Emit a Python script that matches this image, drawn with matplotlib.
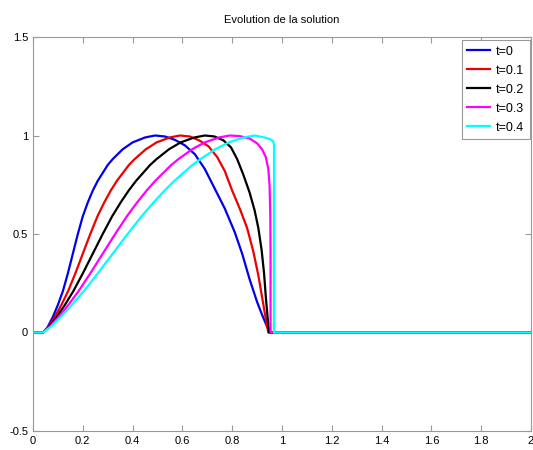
import matplotlib
matplotlib.use("Agg")
from matplotlib import pyplot as plt

# === Donnees ===

# t=0
x_t0 = [0.0, 0.04, 0.05, 0.06, 0.08, 0.10, 0.12, 0.14, 0.16, 0.18, 0.20, 0.22, 0.24, 0.26, 0.28, 0.30,
        0.32, 0.36, 0.40, 0.45, 0.49, 0.53, 0.57, 0.61, 0.65, 0.69, 0.73, 0.77, 0.81, 0.84, 0.87,
        0.90, 0.92, 0.94, 0.955, 2.0]
u_t0 = [0.0, 0.0, 0.012, 0.03, 0.08, 0.14, 0.21, 0.30, 0.40, 0.50, 0.59, 0.66, 0.72, 0.77, 0.81, 0.85,
        0.88, 0.93, 0.965, 0.99, 1.0, 0.995, 0.978, 0.95, 0.905, 0.83, 0.73, 0.63, 0.51, 0.40, 0.27,
        0.155, 0.09, 0.03, 0.0, 0.0]

# t=0.1
x_t1 = [0.0, 0.04, 0.063, 0.088, 0.114, 0.141, 0.17, 0.20, 0.23, 0.259, 0.286, 0.312, 0.337, 0.361,
        0.385, 0.408, 0.453, 0.4965, 0.549, 0.59, 0.63, 0.668, 0.705, 0.74, 0.77, 0.80, 0.83, 0.86,
        0.885, 0.905, 0.92, 0.932, 0.945, 2.0]
u_t1 = [0.0, 0.0, 0.03, 0.08, 0.14, 0.21, 0.30, 0.40, 0.50, 0.59, 0.66, 0.72, 0.77, 0.81,
        0.85, 0.88, 0.93, 0.965, 0.99, 1.0, 0.995, 0.975, 0.945, 0.89, 0.82, 0.72, 0.63, 0.53,
        0.41, 0.29, 0.18, 0.09, 0.0, 0.0]

# t=0.2
x_t2 = [0.0, 0.04, 0.066, 0.096, 0.128, 0.162, 0.20, 0.24, 0.28, 0.318, 0.352, 0.384, 0.414, 0.442,
        0.47, 0.496, 0.546, 0.593, 0.648, 0.69, 0.729, 0.765, 0.795, 0.82, 0.845, 0.87, 0.89, 0.905,
        0.918, 0.928, 0.935, 0.942, 0.948, 2.0]
u_t2 = [0.0, 0.0, 0.03, 0.08, 0.14, 0.21, 0.30, 0.40, 0.50, 0.59, 0.66, 0.72, 0.77, 0.81,
        0.85, 0.88, 0.93, 0.965, 0.99, 1.0, 0.995, 0.975, 0.94, 0.88, 0.80, 0.71, 0.62, 0.53,
        0.42, 0.30, 0.18, 0.08, 0.0, 0.0]

# t=0.3
x_t3 = [0.0, 0.04, 0.069, 0.104, 0.142, 0.183, 0.23, 0.28, 0.33, 0.377, 0.418, 0.456, 0.491, 0.523,
        0.555, 0.584, 0.639, 0.6895, 0.747, 0.79, 0.83, 0.87, 0.90, 0.92, 0.935, 0.945, 0.95, 0.953,
        0.954, 0.954, 0.954, 2.0]
u_t3 = [0.0, 0.0, 0.03, 0.08, 0.14, 0.21, 0.30, 0.40, 0.50, 0.59, 0.66, 0.72, 0.77, 0.81,
        0.85, 0.88, 0.93, 0.965, 0.99, 1.0, 0.997, 0.985, 0.96, 0.93, 0.89, 0.83, 0.75, 0.60,
        0.40, 0.20, 0.0, 0.0]

# t=0.4
x_t4 = [0.0, 0.04, 0.072, 0.112, 0.156, 0.204, 0.26, 0.32, 0.38, 0.436, 0.484, 0.528, 0.568, 0.604,
        0.64, 0.672, 0.732, 0.786, 0.846, 0.89, 0.93, 0.955, 0.965, 0.968, 0.968, 2.0]
u_t4 = [0.0, 0.0, 0.03, 0.08, 0.14, 0.21, 0.30, 0.40, 0.50, 0.59, 0.66, 0.72, 0.77, 0.81,
        0.85, 0.88, 0.93, 0.965, 0.99, 1.0, 0.99, 0.98, 0.97, 0.95, 0.0, 0.0]

series = [
    (x_t0, u_t0, '#0000ee', 't=0'),
    (x_t1, u_t1, '#ee0000', 't=0.1'),
    (x_t2, u_t2, '#000000', 't=0.2'),
    (x_t3, u_t3, '#ff00ff', 't=0.3'),
    (x_t4, u_t4, '#00ffff', 't=0.4'),
]

x_ticks = [0, 0.2, 0.4, 0.6, 0.8, 1, 1.2, 1.4, 1.6, 1.8, 2]
y_ticks = [-0.5, 0, 0.5, 1, 1.5]

# === Figure ===
plt.rcParams['font.family'] = ['Liberation Sans', 'DejaVu Sans']
plt.rcParams['font.size'] = 8

fig = plt.figure(figsize=(5.33, 4.5), dpi=100)
ax = fig.add_axes([33 / 533, 1 - 431 / 450, 498 / 533, 394 / 450])

for xs, us, col, lab in series:
    ax.plot(xs, us, color=col, lw=1.6, label=lab)

ax.set_xlim(0, 2)
ax.set_ylim(-0.5, 1.5)
ax.set_xticks(x_ticks)
ax.set_xticklabels([f"{v:g}" for v in x_ticks])
ax.set_yticks(y_ticks)
ax.set_yticklabels([f"{v:g}" for v in y_ticks])
ax.tick_params(direction='in', top=True, right=True, length=4, color='#999999', labelsize=8)
for sp in ax.spines.values():
    sp.set_color('#999999')
    sp.set_linewidth(0.8)

ax.set_title("Evolution de la solution", fontsize=8, pad=10)

leg = ax.legend(loc='upper right', bbox_to_anchor=(530 / 533, 1 - 40 / 450),
                bbox_transform=fig.transFigure, fancybox=False, framealpha=1,
                edgecolor='#999999', fontsize=9, handlelength=1.8, handletextpad=0.5,
                labelspacing=0.56, borderpad=0.45, borderaxespad=0)
leg.get_frame().set_linewidth(0.8)

fig.savefig("out.png", dpi=100)
